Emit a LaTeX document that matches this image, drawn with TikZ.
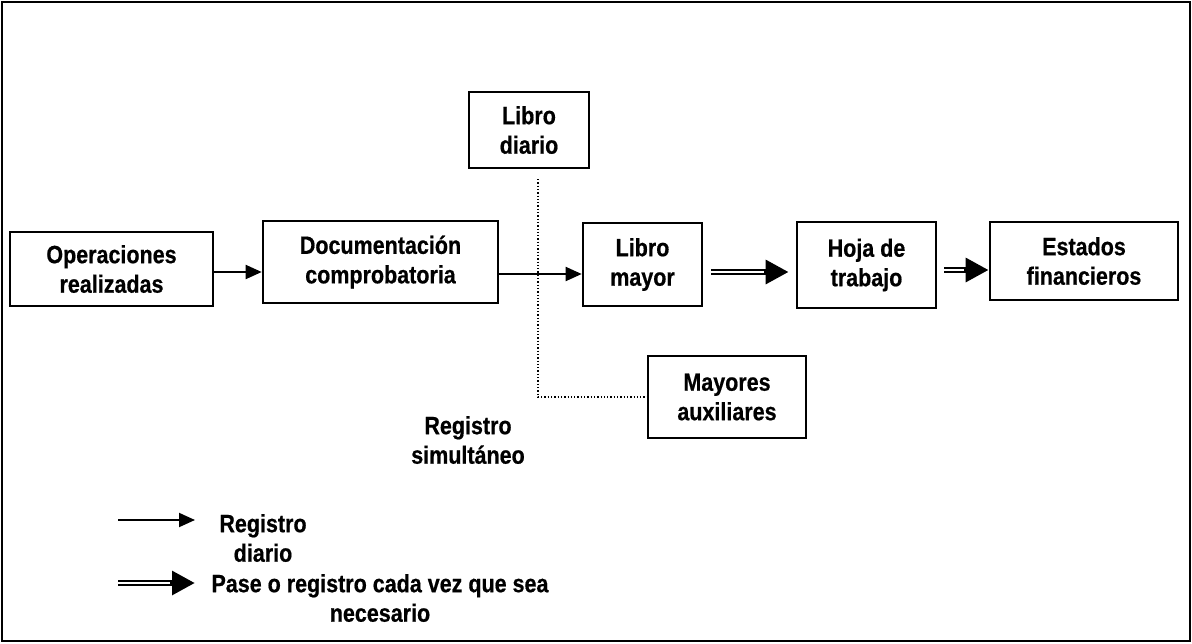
\documentclass[tikz,border=0pt]{standalone}
\usepackage{fontspec}
\setmainfont{Liberation Sans}[FakeStretch=0.86]
\usetikzlibrary{arrows.meta}
\begin{document}
\begin{tikzpicture}[x=1pt,y=-1pt,
  txt/.style={font=\bfseries\addfontfeatures{FakeBold=0.6}\fontsize{25}{29.5}\selectfont, align=center, inner sep=0pt},
  box/.style={txt, draw, line width=2.6pt},
  single/.style={line width=1.9pt, -{Triangle[length=16pt,width=14pt]}},
  dblout/.style={line width=6.8pt, -{Triangle[length=23pt,width=23pt]}},
  dblin/.style={white, line width=2.3pt, shorten >=25pt},
  dots/.style={dotted, line width=1.3pt}]
\useasboundingbox (0,0) rectangle (1192,643);
\draw[line width=2pt] (2,2) rectangle (1190,641);
% boxes
\node[box, minimum width=203pt, minimum height=74pt] (op) at (111.5,269) {Operaciones\\realizadas};
\node[box, minimum width=235pt, minimum height=82pt] (doc) at (380.5,262) {Documentación\\comprobatoria};
\node[box, minimum width=120pt, minimum height=76pt] (diario) at (529,130) {Libro\\diario};
\node[box, minimum width=119pt, minimum height=83pt] (mayor) at (642.5,264.5) {Libro\\mayor};
\node[box, minimum width=139pt, minimum height=86pt] (hoja) at (866.5,265) {Hoja de\\trabajo};
\node[box, minimum width=188pt, minimum height=78pt] (estados) at (1084,261) {Estados\\financieros};
\node[box, minimum width=158pt, minimum height=82pt] (aux) at (727,397) {Mayores\\auxiliares};
% arrow levels
\coordinate (ya) at (0,272);
\coordinate (yb) at (0,274);
\coordinate (yc) at (0,272);
\coordinate (yd) at (0,270);
\draw[single] (op.east |- ya) -- (doc.west |- ya);
\draw[single] (doc.east |- yb) -- (mayor.west |- yb);
\draw[dblout, shorten <=8pt, shorten >=7pt] (mayor.east |- yc) -- (hoja.west |- yc);
\draw[dblin, shorten <=8pt, shorten >=32pt] (mayor.east |- yc) -- (hoja.west |- yc);
\draw[dblout, shorten <=7pt] (hoja.east |- yd) -- (estados.west |- yd);
\draw[dblin, shorten <=7pt] (hoja.east |- yd) -- (estados.west |- yd);
% dotted connection
\coordinate (dtop) at (538,179);
\draw[dots] (dtop) |- (aux.west);
% labels
\node[txt] (simul) at (468,440) {Registro\\simultáneo};
% legend
\coordinate (l1a) at (118,520);
\coordinate (l1b) at (195,520);
\draw[single] (l1a) -- (l1b);
\node[txt] (leg1) at (263,538) {Registro\\diario};
\coordinate (l2a) at (118,583);
\coordinate (l2b) at (195,583);
\draw[dblout] (l2a) -- (l2b);
\draw[dblin] (l2a) -- (l2b);
\node[txt] (leg2) at (380,598) {Pase o registro cada vez que sea\\necesario};
\end{tikzpicture}
\end{document}
